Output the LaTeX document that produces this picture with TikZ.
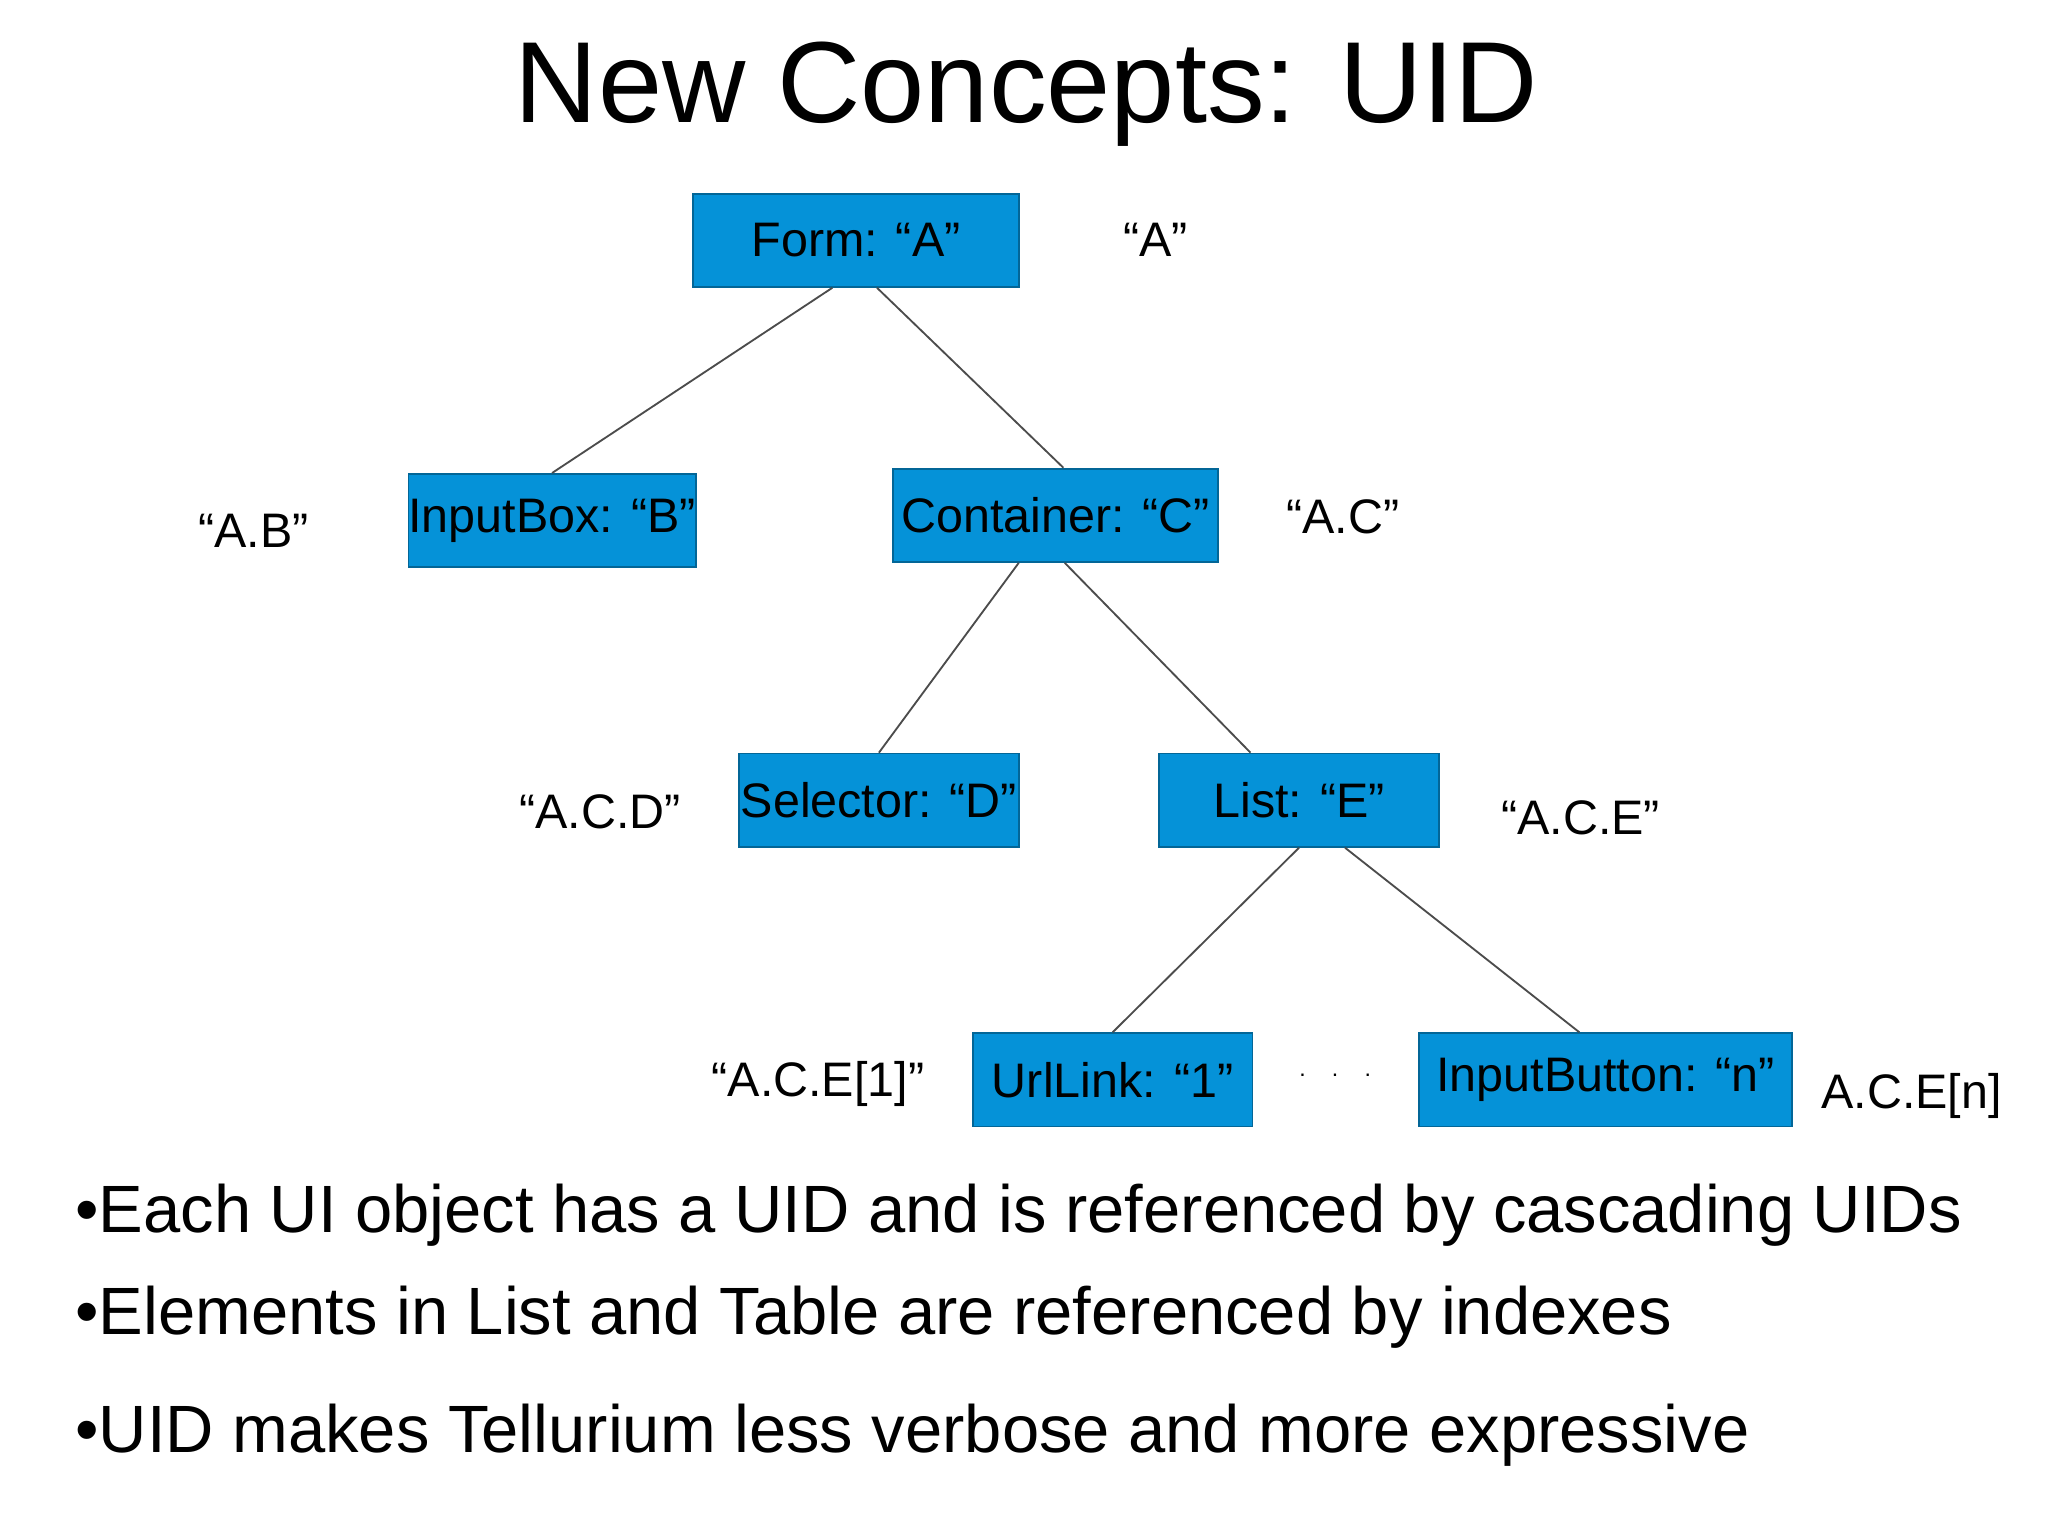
\documentclass[tikz,border=0pt]{standalone}
\usepackage{fontspec}
\setmainfont{Liberation Sans}
\usetikzlibrary{positioning, calc}
\definecolor{boxblue}{HTML}{0592D8}
\tikzset{
uibox/.style={draw=boxblue!70!black, fill=boxblue, minimum height=0.71cm, inner sep=0pt, font=\fontsize{10.5}{12}\selectfont}, % the UI object boxes
uid/.style={font=\fontsize{10.5}{12}\selectfont}, % the UID labels
bullet/.style={anchor=west, font=\fontsize{14.5}{17}\selectfont},
link/.style={draw=black!70, thin},
}
\begin{document}
\begin{tikzpicture}
    \useasboundingbox (0,0) rectangle (15.6,-11.69);
    \node[font=\fontsize{25}{30}\selectfont] (title) at (7.82,-0.72) {New Concepts: UID};

    \node[uibox, minimum width=2.48cm] (A) at (6.52,-1.83) {Form: “A”};
    \node[uibox, minimum width=2.13cm] (B) at (4.205,-3.965) {InputBox: “B”};
    \node[uibox, minimum width=2.48cm] (C) at (8.04,-3.925) {Container: “C”};
    \node[uibox, minimum width=2.13cm] (D) at (6.695,-6.095) {Selector: “D”};
    \node[uibox, minimum width=2.13cm] (E) at (9.895,-6.095) {List: “E”};
    \node[uibox, minimum width=2.13cm] (L1) at (8.475,-8.225) {UrlLink: “1”};
    \node[uibox, minimum width=2.84cm] (Ln) at (12.23,-8.225) {InputButton: “n”};

    \node[uid] (uA) at (8.80,-1.83) {“A”};
    \node[uid] (uB) at (1.93,-4.04) {“A.B”};
    \node[uid] (uC) at (10.23,-3.94) {“A.C”};
    \node[uid] (uD) at (4.57,-6.18) {“A.C.D”};
    \node[uid] (uE) at (12.04,-6.23) {“A.C.E”};
    \node[uid] (u1) at (6.23,-8.26) {“A.C.E[1]”};
    \node[uid] (un) at (14.56,-8.35) {A.C.E[n]};
    \node[font=\tiny] (dots) at (10.17,-8.19) {.\hspace{0.2cm}.\hspace{0.2cm}.};

    \draw[link] ($(A.south)+(-0.18,0)$) -- (B.north);
    \draw[link] ($(A.south)+(0.16,0)$) -- ($(C.north)+(0.06,0)$);
    \draw[link] ($(C.south)+(-0.28,0)$) -- (D.north);
    \draw[link] ($(C.south)+(0.07,0)$) -- ($(E.north)+(-0.37,0)$);
    \draw[link] (E.south) -- (L1.north);
    \draw[link] ($(E.south)+(0.35,0)$) -- ($(Ln.north)+(-0.2,0)$);

    \node[bullet] (b1) at (0.45,-9.26) {•Each UI object has a UID and is referenced by cascading UIDs};
    \node[bullet] (b2) at (0.45,-10.03) {•Elements in List and Table are referenced by indexes};
    \node[bullet] (b3) at (0.45,-10.93) {•UID makes Tellurium less verbose and more expressive};
\end{tikzpicture}
\end{document}
